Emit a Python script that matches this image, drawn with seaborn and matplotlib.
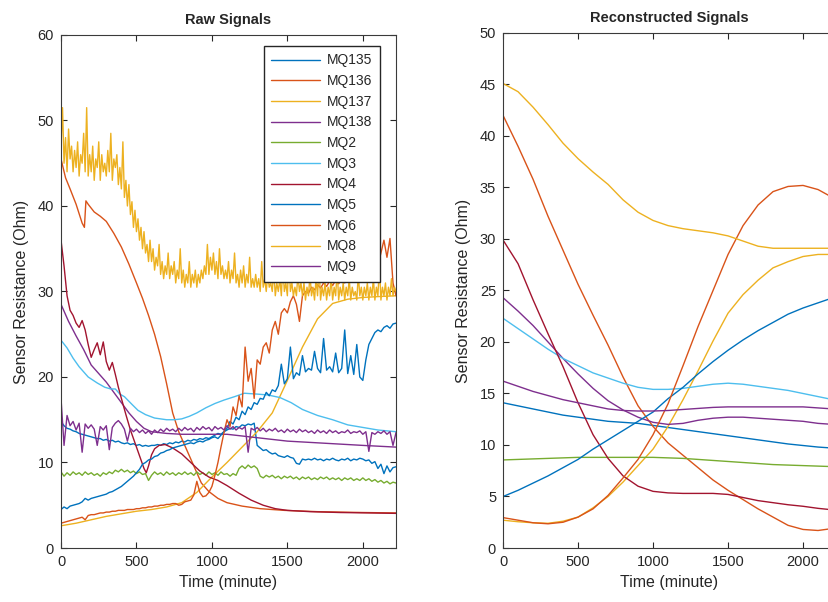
import numpy as np
import pandas as pd
import matplotlib
matplotlib.use("Agg")
import matplotlib.pyplot as plt
import seaborn as sns

# ---------------------------------------------------------------- data
SENSORS = ["MQ135", "MQ136", "MQ137", "MQ138", "MQ2", "MQ3",
           "MQ4", "MQ5", "MQ6", "MQ8", "MQ9"]

# default MATLAB colour order, cycled over the sensors
LINE_COLORS = ["#0072BD", "#D95319", "#EDB120", "#7E2F8E",
               "#77AC30", "#4DBEEE", "#A2142F"]

# sampling grids of the noisy raw traces (minutes)
T_FINE = np.arange(0, 2221, 10)
T_DENSE = np.arange(0, 2221, 20)

MQ8_RAW = [
    47, 51.5, 45, 48, 44, 49, 45.5, 47, 44, 46.5,
    44.5, 47.5, 43.5, 46, 45, 48.5, 44, 51.5, 43.5, 46,
    44, 47, 43, 45.5, 44.5, 47.5, 43, 46, 44, 45,
    43.5, 46.5, 44, 48.5, 43, 45.5, 44.5, 46, 42.5, 44.5,
    42, 47.5, 41, 43, 40, 42.5, 39, 40.5, 37.5, 39.5,
    37, 38.5, 36, 37.5, 35, 37, 34.5, 35.5, 33.5, 36,
    33.5, 35, 32.5, 34, 33, 35.5, 32, 33.5, 31.5, 33,
    32, 34.5, 31.5, 33, 32, 33.5, 31, 32.5, 31.5, 35,
    31, 32.5, 30.5, 32, 31, 33.5, 30.5, 32, 31, 32.5,
    30.5, 32, 31, 32.5, 31.5, 33, 32, 35.5, 32, 34,
    32.5, 34.5, 32, 33.5, 31.5, 35, 32, 33, 31.5, 32.5,
    31.5, 33.5, 31, 32.5, 31.5, 34.5, 31, 32, 30.5, 32.5,
    31, 33, 30.5, 32, 31, 34, 30.5, 31.5, 30.5, 32,
    30.5, 31.5, 30, 33.5, 30.5, 31.5, 30, 32, 30.5, 31,
    30, 32.5, 29.5, 31, 30, 31.5, 29.5, 33, 30, 31,
    29.5, 34, 30, 31, 29.5, 30.5, 29.5, 32, 30, 31,
    29.5, 31, 29, 30.5, 29.5, 32, 29.5, 30.5, 29, 31.5,
    29.5, 33, 29, 30.5, 29.5, 31, 29, 30.5, 29.5, 31.5,
    29, 30.5, 29.5, 32.5, 29, 30.5, 29.5, 31, 29, 30.5,
    29.5, 31.5, 29, 30.5, 29.5, 30, 29, 32, 29.5, 30.5,
    29, 30.5, 29.5, 31, 29, 30.5, 29.5, 31.5, 29, 30.5,
    29.5, 33, 29, 30.5, 29.5, 31, 29, 30.5, 29.5, 31.5,
    29.5, 30.5, 30,
]

MQ5_RAW = [
    4.5, 4.8, 4.6, 4.9, 5.0, 5.1, 5.2, 5.4, 5.8, 5.6,
    5.8, 5.9, 6.0, 6.1, 6.2, 6.3, 6.5, 6.6, 6.8, 7.0,
    7.2, 7.5, 7.8, 8.1, 8.4, 8.8, 9.2, 9.8, 10.0, 10.3,
    10.4, 10.7, 10.8, 11.1, 11.2, 11.4, 11.5, 11.7, 11.8, 11.9,
    12.0, 12.1, 12.2, 12.3, 12.2, 12.4, 12.5, 12.4, 12.6, 12.7,
    12.9, 13.0, 12.8, 13.2, 13.6, 14.0, 14.8, 14.5, 15.3, 15.0,
    16.0, 15.6, 16.5, 16.2, 17.0, 16.8, 17.5, 17.4, 18.2, 17.8,
    18.5, 18.3, 19.0, 21.5, 19.2, 19.8, 23.5, 19.8, 20.5, 20.2,
    22.5, 20.6, 21.0, 20.8, 23.0, 21.0, 20.5, 24.5, 20.8, 21.2,
    20.6, 22.8, 20.5, 21.0, 25.5, 20.4, 22.5, 20.3, 23.8, 20.0,
    19.6, 22.0, 23.8, 24.5, 25.2, 25.5, 25.3, 25.8, 26.0, 25.7,
    26.2, 26.3,
]

MQ135_RAW = [
    14.8, 14.3, 14.0, 13.9, 13.7, 13.6, 13.4, 13.3, 13.2, 13.1,
    13.0, 12.9, 12.8, 12.8, 12.6, 12.7, 12.5, 12.6, 12.4, 12.5,
    12.3, 12.2, 12.3, 12.1, 12.2, 12.0, 12.1, 11.9, 12.0, 11.9,
    12.0, 12.0, 12.1, 12.0, 12.2, 12.1, 12.3, 12.2, 12.4, 12.3,
    12.5, 12.4, 12.6, 12.5, 12.7, 12.6, 12.8, 12.7, 12.9, 12.8,
    13.0, 13.2, 13.4, 13.3, 13.6, 13.8, 14.0, 13.9, 14.2, 14.1,
    14.4, 14.3, 14.5, 14.4, 14.6, 12.0, 11.7, 11.4, 11.5, 11.2,
    11.0, 11.1, 10.8, 10.7, 10.6, 10.8, 10.6, 10.5, 9.9, 9.8,
    10.4, 10.3, 10.4, 10.3, 10.5, 10.3, 10.4, 10.2, 10.4, 10.3,
    10.5, 10.3, 10.2, 10.4, 10.3, 10.5, 10.2, 10.4, 10.3, 10.5,
    10.4, 10.2, 10.3, 9.9, 10.1, 9.3, 9.8, 8.7, 9.6, 8.9,
    9.4, 9.5,
]

MQ9_RAW = [
    17.5, 12.0, 15.5, 14.3, 14.8, 13.8, 14.6, 11.2, 14.5, 14.0,
    14.4, 13.9, 12.0, 14.2, 13.8, 14.3, 11.5, 14.1, 14.6, 14.9,
    14.5, 13.9, 12.5, 14.0, 13.6, 13.9, 13.5, 13.8, 13.4, 13.7,
    13.3, 13.8, 13.5, 13.9, 13.6, 14.0, 13.7, 13.9, 13.6, 14.0,
    13.7, 14.1, 13.8, 14.0, 13.6, 14.1, 13.8, 14.2, 13.9, 14.1,
    13.7, 14.2, 13.9, 14.1, 13.8, 14.3, 13.9, 14.2, 13.8, 14.1,
    13.9, 14.2, 11.2, 14.0, 13.8, 14.1, 13.7, 14.0, 13.6, 13.9,
    13.7, 14.0, 13.6, 13.8, 13.5, 13.9, 13.6, 13.8, 13.5, 13.9,
    13.6, 13.8, 13.5, 13.7, 13.4, 13.8, 13.5, 13.7, 13.4, 13.8,
    13.5, 13.7, 13.4, 13.6, 13.5, 13.8, 13.4, 13.6, 13.5, 13.7,
    13.3, 13.6, 11.3, 13.5, 13.3, 13.6, 13.4, 13.7, 13.3, 13.6,
    12.0, 13.5,
]

MQ2_RAW = [
    8.9, 8.4, 8.8, 8.5, 8.9, 8.6, 8.8, 8.5, 8.9, 8.6,
    8.8, 8.5, 8.7, 8.4, 8.8, 8.6, 8.9, 8.7, 9.1, 8.9,
    9.2, 8.9, 9.1, 8.8, 9.0, 8.7, 8.9, 8.6, 8.7, 7.9,
    8.5, 8.9, 8.6, 8.8, 8.5, 8.9, 8.6, 8.8, 8.5, 8.8,
    8.6, 8.9, 8.6, 8.8, 8.5, 8.9, 8.6, 8.8, 8.5, 8.9,
    8.6, 8.8, 8.5, 8.9, 8.6, 8.7, 8.4, 8.7, 8.5, 9.3,
    9.6, 9.3, 9.7, 9.4, 9.6, 9.3, 8.4, 8.2, 8.5, 8.3,
    8.5, 8.2, 8.4, 8.1, 8.4, 8.2, 8.4, 8.1, 8.3, 8.0,
    8.3, 8.1, 8.3, 8.0, 8.2, 8.0, 8.3, 8.1, 8.3, 8.0,
    8.2, 8.0, 8.2, 7.9, 8.2, 8.0, 8.2, 7.9, 8.1, 7.9,
    8.2, 7.9, 8.1, 7.8, 8.0, 7.7, 7.9, 7.6, 7.8, 7.5,
    7.7, 7.6,
]

MQ6_RAW = [
    2.9, 3.0, 3.1, 3.2, 3.3, 3.4, 3.5, 3.6, 3.3, 3.8,
    3.9, 3.9, 4.0, 4.1, 4.1, 4.2, 4.2, 4.3, 4.3, 4.4,
    4.4, 4.4, 4.5, 4.5, 4.5, 4.6, 4.6, 4.7, 4.7, 4.8,
    4.8, 4.9, 4.9, 5.0, 5.0, 5.1, 5.1, 5.2, 5.2, 5.0,
    5.1, 5.4, 5.5, 5.6, 6.2, 7.8, 6.5, 6.0, 6.1, 6.5,
    7.2, 8.5, 10.0, 11.8, 13.5, 15.0, 14.2, 16.5, 15.5, 17.8,
    16.5, 23.5, 19.5, 21.0, 17.5, 22.0, 21.5, 23.5, 24.0, 22.8,
    25.5, 26.5, 25.0, 27.5, 28.0, 27.5, 28.8, 29.5, 28.5, 26.5,
    29.5, 30.0, 29.8, 30.5, 30.2, 30.8, 30.4, 31.0, 30.6, 31.2,
    30.7, 31.3, 30.9, 31.5, 31.0, 31.6, 31.2, 31.8, 31.4, 32.0,
    31.5, 32.2, 31.8, 32.5, 32.0, 33.0, 34.5, 36.0, 34.0, 36.2,
    31.0, 29.5,
]

# smoother raw traces, each with its own sample times
MQ4_T = [0, 20, 40, 60, 80, 100, 120, 140, 160, 180, 200, 220, 240, 260, 280,
         300, 320, 340, 360, 380, 400, 430, 460, 490, 520, 550, 565, 580, 600,
         620, 650, 690, 740, 800, 860, 920, 980, 1040, 1100, 1180, 1260, 1340,
         1420, 1500, 1650, 1850, 2050, 2220]
MQ4_RAW = [36, 33, 29.5, 27.8, 27.2, 26.3, 25.8, 26.6, 25.5, 23.8, 22.3, 23.2,
           24.0, 22.6, 24.1, 21.8, 20.8, 21.7, 20.3, 18.8, 17.5, 15.6, 13.8,
           12.3, 10.8, 9.3, 8.8, 9.6, 10.9, 11.6, 12.0, 12.1, 11.7, 11.0, 10.0,
           9.0, 8.3, 7.9, 7.3, 6.4, 5.6, 5.0, 4.6, 4.4, 4.25, 4.15, 4.1, 4.05]

MQ136_T = [0, 30, 60, 100, 140, 155, 165, 180, 220, 260, 300, 350, 400, 450,
           500, 540, 580, 620, 660, 700, 740, 780, 830, 880, 930, 980, 1040,
           1100, 1200, 1320, 1480, 1700, 2000, 2220]
MQ136_RAW = [45.5, 43.3, 42.0, 40.2, 38.0, 37.5, 40.6, 40.2, 39.3, 38.8, 38.2,
             36.8, 35.2, 33.2, 31.0, 29.2, 27.2, 25.0, 22.4, 19.2, 15.8, 13.6,
             11.6, 9.6, 7.6, 6.6, 5.8, 5.3, 4.9, 4.6, 4.4, 4.25, 4.15, 4.1]

MQ137_T = [0, 100, 200, 300, 400, 500, 600, 700, 800, 900, 1000, 1100, 1200,
           1300, 1400, 1500, 1600, 1700, 1800, 1900, 2000, 2100, 2220]
MQ137_RAW = [2.6, 2.9, 3.3, 3.7, 4.0, 4.3, 4.5, 4.8, 5.3, 6.5, 8.3, 10.0, 11.8,
             13.6, 15.8, 19.6, 23.5, 26.8, 28.6, 29.1, 29.3, 29.4, 29.5]

MQ138_T = [0, 50, 100, 150, 200, 250, 300, 350, 400, 450, 500, 550, 600, 700,
           800, 900, 1000, 1100, 1200, 1300, 1400, 1500, 1600, 1800, 2000, 2220]
MQ138_RAW = [28.5, 26.5, 24.8, 23.2, 21.4, 20.4, 19.4, 18.2, 17.0, 15.8, 14.8,
             14.0, 13.6, 13.4, 13.3, 13.3, 13.3, 13.3, 13.1, 12.9, 12.7, 12.5,
             12.4, 12.2, 12.0, 11.8]

MQ3_T = [0, 40, 80, 120, 180, 240, 290, 330, 360, 390, 420, 470, 510, 560, 620,
         700, 750, 800, 850, 900, 960, 1020, 1080, 1150, 1215, 1300, 1370, 1450,
         1525, 1600, 1700, 1800, 1900, 2000, 2100, 2220]
MQ3_RAW = [24.3, 23.4, 22.2, 21.2, 20.0, 19.3, 18.8, 18.6, 18.6, 18.0, 17.7,
           16.8, 16.1, 15.6, 15.2, 15.0, 15.0, 15.1, 15.4, 15.8, 16.4, 16.9,
           17.3, 17.7, 18.1, 18.0, 17.9, 17.6, 17.0, 16.2, 15.5, 15.0, 14.4,
           14.1, 13.8, 13.6]

# reconstructed (smoothed) signals, sampled every 100 minutes
T_RECON = np.arange(0, 2201, 100)
MQ135_REC = [14.1, 13.8, 13.5, 13.2, 12.9, 12.7, 12.5, 12.3, 12.2, 12.1, 11.9,
             11.7, 11.5, 11.3, 11.1, 10.9, 10.7, 10.5, 10.3, 10.1, 9.95, 9.8, 9.7]
MQ136_REC = [42.0, 39.0, 35.8, 32.2, 28.9, 25.6, 22.6, 19.7, 16.6, 13.8, 11.8,
             10.2, 9.0, 7.8, 6.6, 5.6, 4.7, 3.8, 3.0, 2.2, 1.8, 1.7, 1.9]
MQ137_REC = [2.7, 2.55, 2.45, 2.4, 2.6, 3.0, 3.9, 5.0, 6.4, 8.0, 9.6, 11.8,
             14.4, 17.2, 20.1, 22.8, 24.6, 26.0, 27.2, 27.8, 28.3, 28.5, 28.5]
MQ138_REC = [24.3, 23.0, 21.6, 20.0, 18.4, 16.9, 15.5, 14.3, 13.4, 12.7, 12.2,
             12.0, 12.1, 12.4, 12.6, 12.7, 12.7, 12.6, 12.5, 12.4, 12.3, 12.1, 12.0]
MQ2_REC = [8.55, 8.6, 8.65, 8.7, 8.75, 8.8, 8.8, 8.8, 8.8, 8.8, 8.8, 8.75, 8.7,
           8.6, 8.5, 8.4, 8.3, 8.2, 8.1, 8.05, 8.0, 7.95, 7.9]
MQ3_REC = [22.3, 21.3, 20.3, 19.3, 18.4, 17.7, 17.0, 16.5, 16.0, 15.6, 15.4,
           15.4, 15.5, 15.7, 15.9, 16.0, 15.9, 15.7, 15.5, 15.3, 15.0, 14.7, 14.4]
MQ4_REC = [29.9, 27.6, 24.1, 20.8, 17.6, 14.1, 11.0, 8.7, 7.0, 6.0, 5.5, 5.35,
           5.3, 5.3, 5.3, 5.2, 4.9, 4.6, 4.4, 4.2, 4.05, 3.85, 3.7]
MQ5_REC = [5.0, 5.6, 6.3, 7.0, 7.8, 8.6, 9.6, 10.5, 11.4, 12.3, 13.2, 14.5,
           15.6, 16.9, 18.1, 19.2, 20.2, 21.1, 21.9, 22.7, 23.3, 23.8, 24.3]
MQ6_REC = [2.95, 2.7, 2.45, 2.35, 2.5, 3.0, 3.8, 5.1, 6.8, 8.6, 11.0, 14.0,
           17.7, 21.5, 25.0, 28.5, 31.3, 33.3, 34.6, 35.1, 35.2, 34.8, 34.0]
MQ8_REC = [45.1, 44.3, 42.8, 41.1, 39.3, 37.8, 36.5, 35.3, 33.8, 32.6, 31.8,
           31.3, 31.0, 30.8, 30.6, 30.3, 29.8, 29.3, 29.1, 29.1, 29.1, 29.1, 29.1]
MQ9_REC = [16.2, 15.7, 15.2, 14.8, 14.4, 14.1, 13.8, 13.5, 13.35, 13.3, 13.3,
           13.35, 13.45, 13.55, 13.65, 13.7, 13.7, 13.7, 13.7, 13.7, 13.7, 13.6, 13.5]

RAW = {
    "MQ135": (T_DENSE, MQ135_RAW),
    "MQ136": (MQ136_T, MQ136_RAW),
    "MQ137": (MQ137_T, MQ137_RAW),
    "MQ138": (MQ138_T, MQ138_RAW),
    "MQ2": (T_DENSE, MQ2_RAW),
    "MQ3": (MQ3_T, MQ3_RAW),
    "MQ4": (MQ4_T, MQ4_RAW),
    "MQ5": (T_DENSE, MQ5_RAW),
    "MQ6": (T_DENSE, MQ6_RAW),
    "MQ8": (T_FINE, MQ8_RAW),
    "MQ9": (T_DENSE, MQ9_RAW),
}
RECON = {
    "MQ135": MQ135_REC, "MQ136": MQ136_REC, "MQ137": MQ137_REC,
    "MQ138": MQ138_REC, "MQ2": MQ2_REC, "MQ3": MQ3_REC, "MQ4": MQ4_REC,
    "MQ5": MQ5_REC, "MQ6": MQ6_REC, "MQ8": MQ8_REC, "MQ9": MQ9_REC,
}


def long_frame(series):
    parts = [pd.DataFrame({"time": np.asarray(t, float),
                           "resistance": np.asarray(v, float),
                           "sensor": name})
             for name, (t, v) in series.items()]
    return pd.concat(parts, ignore_index=True)


raw_df = long_frame(RAW)
rec_df = long_frame({k: (T_RECON, v) for k, v in RECON.items()})

palette = {name: LINE_COLORS[i % len(LINE_COLORS)] for i, name in enumerate(SENSORS)}

# ---------------------------------------------------------------- style
sns.set_theme(style="ticks")
AX_COLOR = "#262626"
plt.rcParams.update({
    "font.family": ["Liberation Sans", "DejaVu Sans"],
    "axes.edgecolor": "#3a3a3a",
    "axes.linewidth": 0.8,
    "xtick.color": AX_COLOR,
    "ytick.color": AX_COLOR,
    "axes.labelcolor": AX_COLOR,
    "text.color": AX_COLOR,
})

fig = plt.figure(figsize=(8.29, 6.02), dpi=100, facecolor="white")
ax_raw = fig.add_axes([0.0736, 0.0897, 0.4041, 0.8522])
ax_rec = fig.add_axes([0.6068, 0.0897, 0.4017, 0.8555])

sns.lineplot(data=raw_df, x="time", y="resistance", hue="sensor",
             hue_order=SENSORS, palette=palette, estimator=None, sort=False,
             legend=False, linewidth=1.0, ax=ax_raw)
sns.lineplot(data=rec_df, x="time", y="resistance", hue="sensor",
             hue_order=SENSORS, palette=palette, estimator=None, sort=False,
             legend=False, linewidth=1.0, ax=ax_rec)

for ax, title, ymax, ystep in [(ax_raw, "Raw Signals", 60, 10),
                               (ax_rec, "Reconstructed Signals", 50, 5)]:
    ax.set_xlim(0, 2220)
    ax.set_ylim(0, ymax)
    ax.set_xticks([0, 500, 1000, 1500, 2000])
    ax.set_yticks(np.arange(0, ymax + 1, ystep))
    ax.tick_params(direction="in", top=True, right=True, length=4,
                   width=0.8, labelsize=10.5, pad=5)
    for side in ["top", "right"]:
        ax.spines[side].set_visible(True)
    ax.set_title(title, fontsize=10.5, fontweight="bold", pad=8)
    ax.set_xlabel("Time (minute)", fontsize=11.5, labelpad=4)
    ax.set_ylabel("Sensor Resistance (Ohm)", fontsize=11.5, labelpad=6)
    ax.set_facecolor("white")

handles = ax_raw.get_lines()[:len(SENSORS)]
ax_raw.legend(handles, SENSORS, loc="upper right", bbox_to_anchor=(0.952, 0.979),
              borderaxespad=0, handlelength=3.5, handletextpad=0.5,
              labelspacing=0.48, borderpad=0.55, fontsize=10,
              frameon=True, fancybox=False, framealpha=1,
              edgecolor=AX_COLOR)

fig.savefig("out.png", dpi=100, facecolor="white")
